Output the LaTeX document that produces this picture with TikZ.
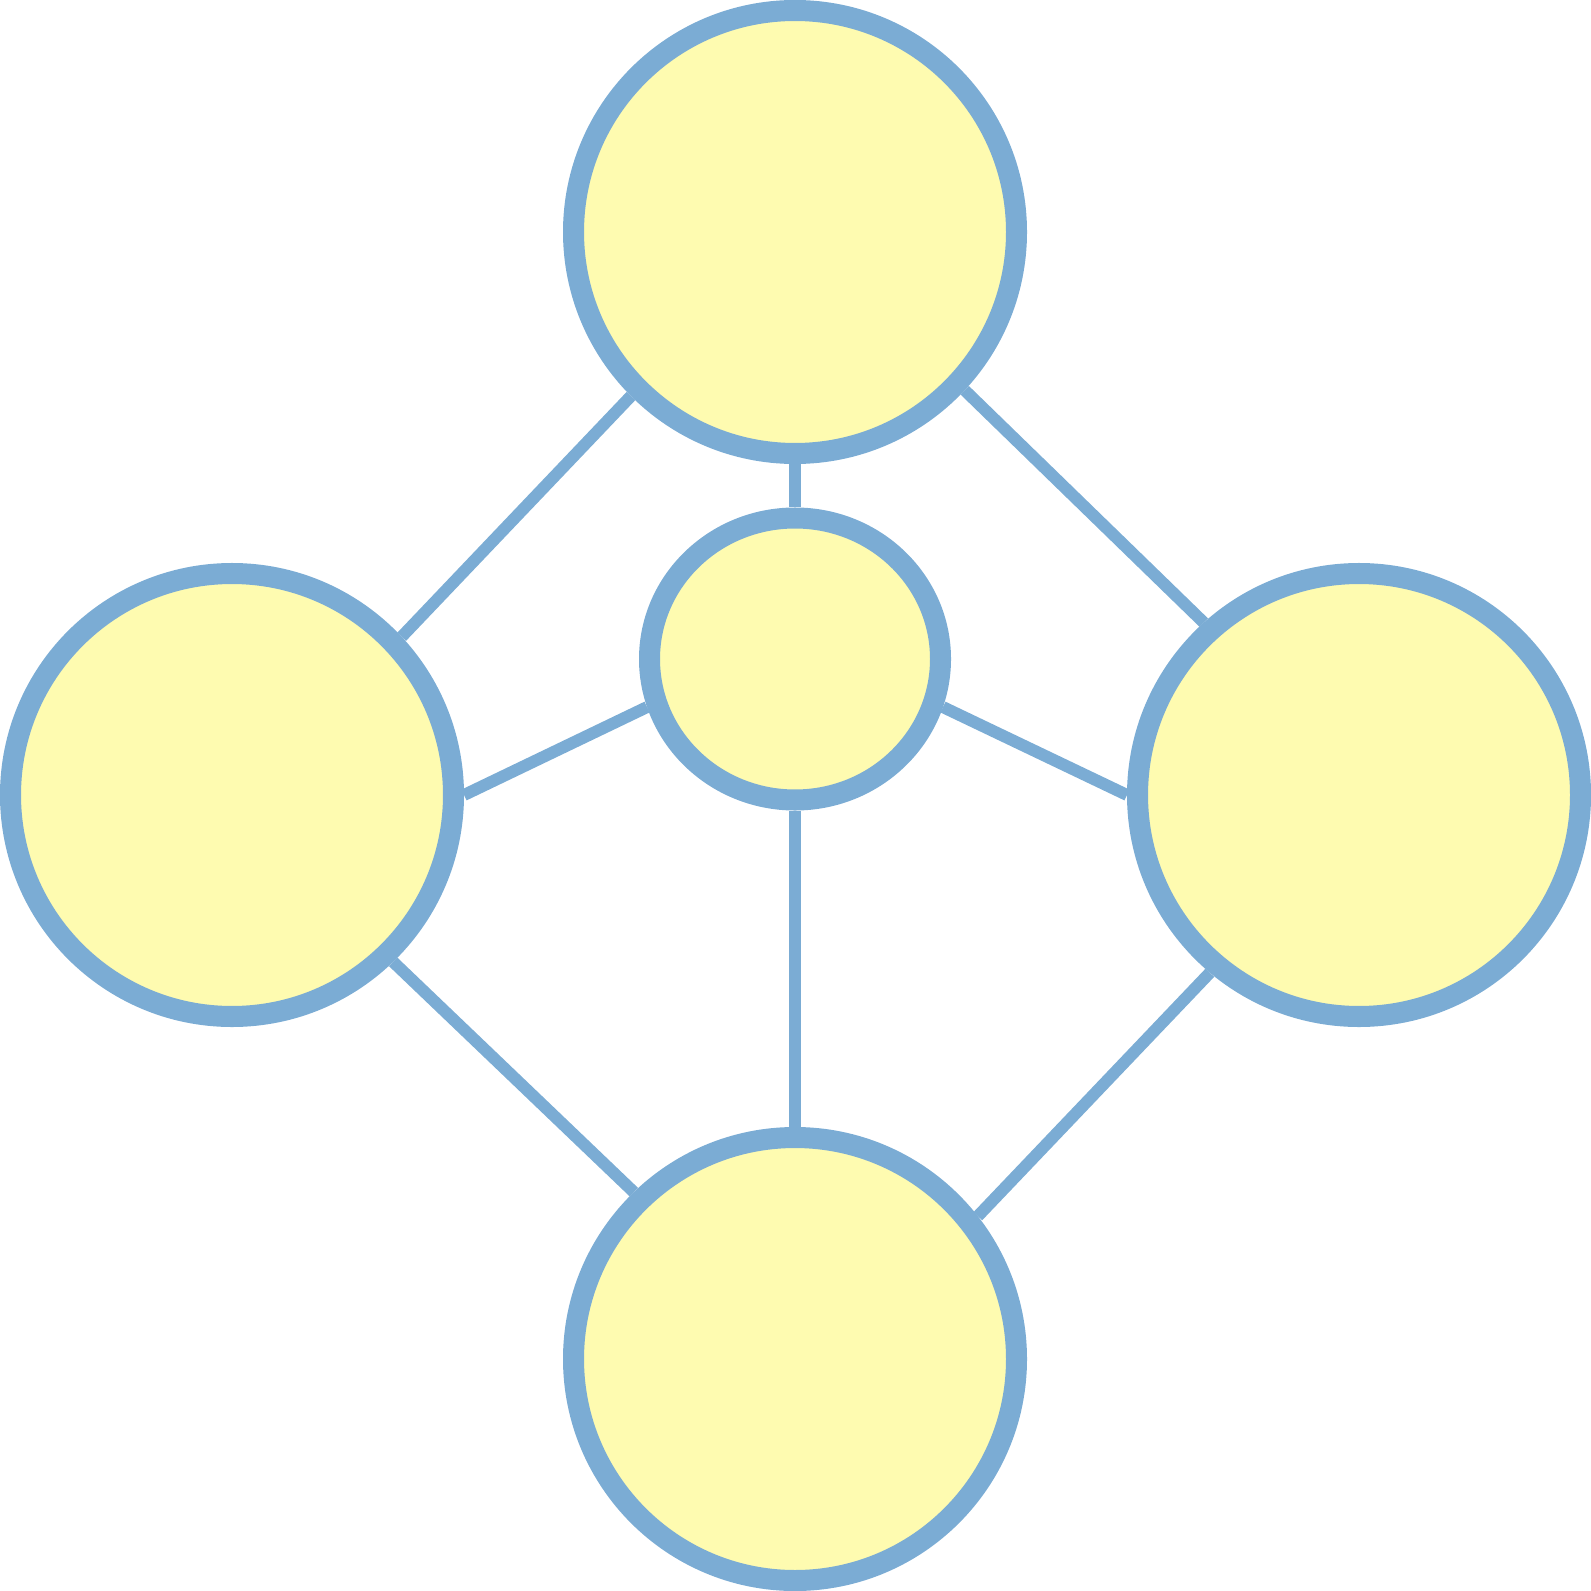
\documentclass[tikz,border=0pt]{standalone}
\usepackage{tikz}
\usetikzlibrary{shapes.geometric}

\definecolor{ringblue}{RGB}{123,172,212}
\definecolor{padyellow}{RGB}{254,251,176}

\begin{document}
\begin{tikzpicture}[
  bigdot/.style={circle, draw=ringblue, fill=padyellow, line width=5.98pt, minimum size=4.43cm, inner sep=0pt},
  hubdot/.style={ellipse, draw=ringblue, fill=padyellow, line width=5.98pt, minimum width=2.91cm, minimum height=2.82cm, inner sep=0pt},
  link/.style={draw=ringblue, line width=3.4pt}
]
\useasboundingbox (0,0) rectangle (15.91,-15.91);
\node[bigdot] (top) at (7.95,-2.32) {};
\node[bigdot] (left) at (2.32,-7.95) {};
\node[bigdot] (right) at (13.59,-7.95) {};
\node[bigdot] (bottom) at (7.95,-13.59) {};
\node[hubdot] (hub) at (7.95,-6.59) {};
\draw[link] (top.225) -- (left.43);
\draw[link] (top.317) -- (right.132);
\draw[link] (left.314) -- (bottom.134);
\draw[link] (right.230) -- (bottom.38);
\draw[link] (top.south) -- (hub.north);
\draw[link] (hub.south) -- (bottom.north);
\draw[link] (left.east) -- (hub.198);
\draw[link] (hub.-18) -- (right.west);
\end{tikzpicture}
\end{document}
